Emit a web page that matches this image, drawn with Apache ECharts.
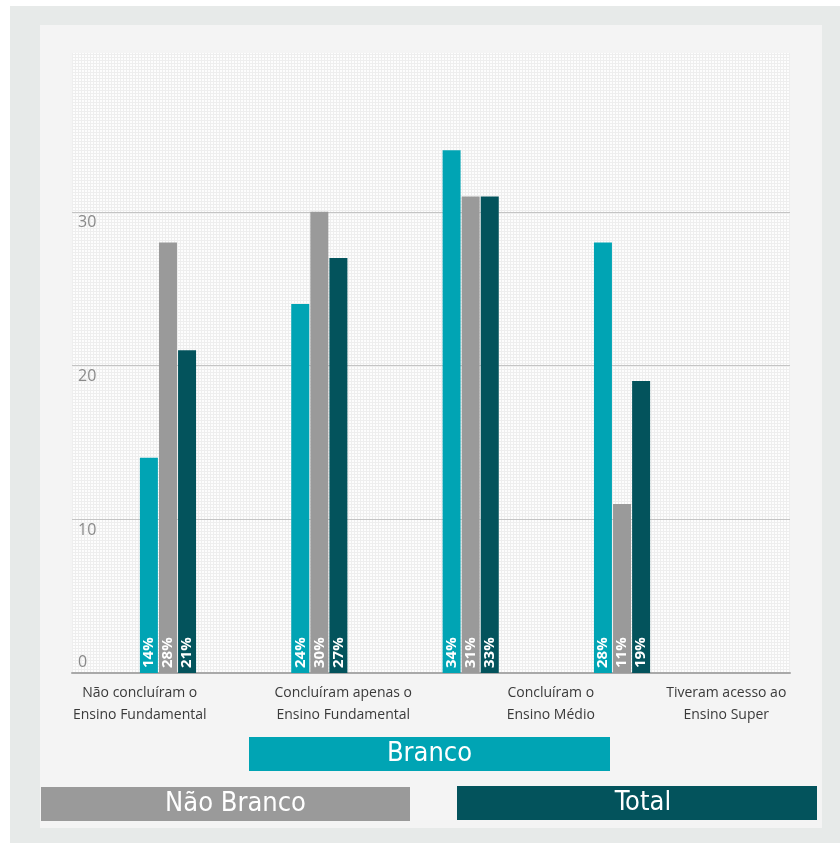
<!DOCTYPE html>
<html>
<head>
<meta charset="utf-8">
<script src="https://cdn.jsdelivr.net/npm/echarts@6/dist/echarts.min.js"></script>
<style>html,body{margin:0;padding:0;background:#fff}#c{width:840px;height:843px}</style>
</head>
<body>
<div id="c"></div>
<script>
// ---- data ----
const categories = ['Não concluíram o\nEnsino Fundamental', 'Concluíram apenas o\nEnsino Fundamental', 'Concluíram o\nEnsino Médio', 'Tiveram acesso ao\nEnsino Super'];
const seriesNames = ['Branco', 'Não Branco', 'Total'];
const branco = [14, 24, 34, 28];
const naoBranco = [28, 30, 31, 11];
const total = [21, 27, 31, 19];          // drawn bar heights
const brancoLabels = ['14%', '24%', '34%', '28%'];
const naoBrancoLabels = ['28%', '30%', '31%', '11%'];
const totalLabels = ['21%', '27%', '33%', '19%'];
const yMin = 0, yMax = 40, yStep = 10;

// ---- styles ----
const colors = ['#00a4b4', '#9a9a9a', '#03535c'];
const labelShift = [-22, 2, 30, 26];

function dotPattern() {
  const cv = document.createElement('canvas');
  cv.width = 3; cv.height = 3;
  const ctx = cv.getContext('2d');
  ctx.fillStyle = '#fdfdfd'; ctx.fillRect(0, 0, 3, 3);
  ctx.fillStyle = '#eeeeee'; ctx.fillRect(0, 0, 3, 1); ctx.fillRect(0, 0, 1, 3);
  return cv;
}

const chart = echarts.init(document.getElementById('c'), null, {renderer: 'canvas'});

function barSeries(name, values, labels, idx) {
  return {
    name: name, type: 'bar', xAxisIndex: 1, yAxisIndex: 1,
    data: values, barWidth: 18, barGap: '6%',
    itemStyle: {color: colors[idx]},
    label: {
      show: true, position: 'insideBottom', rotate: 90, align: 'left', verticalAlign: 'middle',
      distance: 5, color: '#fff', fontWeight: 'bold', fontSize: 15, fontFamily: 'Open Sans',
      formatter: p => labels[p.dataIndex]
    }
  };
}

function legendBox(name, idx, left, top, width, shift) {
  return {
    data: [name], left: left, top: top, padding: 0, itemWidth: 0, itemHeight: 0, itemGap: 0,
    icon: 'rect', selectedMode: false,
    formatter: '{a|{name}}',
    textStyle: {
      rich: {a: {width: width - 2 * shift, height: 34, lineHeight: 36, align: 'center', backgroundColor: colors[idx],
        padding: [0, 0, 0, 2 * shift],
        color: '#fff', fontSize: 27, fontFamily: 'DejaVu Sans Condensed, Liberation Sans Narrow, Roboto, sans-serif'}}
    }
  };
}

const option = {
  backgroundColor: '#ffffff',
  animation: false,
  graphic: [
    {type: 'rect', z: -10, shape: {x: 10, y: 6, width: 830, height: 837}, style: {fill: '#e7eae9'}},
    {type: 'rect', z: -9, shape: {x: 40, y: 25, width: 782, height: 803}, style: {fill: '#f4f4f4'}},
    {type: 'rect', z: -8, shape: {x: 72, y: 53, width: 718, height: 620}, style: {fill: {image: dotPattern(), repeat: 'repeat'}}}
  ],
  legend: [
    legendBox(seriesNames[0], 0, 244, 737, 361, 0),
    legendBox(seriesNames[1], 1, 36, 787, 369, 10),
    legendBox(seriesNames[2], 2, 452, 786, 360, 6)
  ],
  grid: [
    {left: 72, right: 50, top: 58, bottom: 170},
    {left: 92.3, right: 142.3, top: 58, bottom: 170}
  ],
  xAxis: [
    {
      type: 'category', gridIndex: 0,
      data: categories.map((c, i) => ({value: c, textStyle: {padding: labelShift[i] > 0 ? [0, 0, 0, 2 * labelShift[i]] : [0, -2 * labelShift[i], 0, 0]}})),
      axisLine: {lineStyle: {color: '#a9a9a9', width: 2}},
      axisTick: {show: false},
      axisLabel: {interval: 0, color: '#3a3a3a', fontSize: 14, fontFamily: 'Open Sans', lineHeight: 22, margin: 9}
    },
    {type: 'category', gridIndex: 1, data: categories, show: false}
  ],
  yAxis: [
    {
      type: 'value', gridIndex: 0, min: yMin, max: yMax, interval: yStep,
      axisLine: {show: false}, axisTick: {show: false},
      splitLine: {lineStyle: {color: ['transparent', '#c4c4c4', '#c4c4c4', '#c4c4c4', 'transparent'], width: 1}},
      axisLabel: {
        inside: true, margin: 6, color: '#8a8a8a', fontSize: 16, fontFamily: 'Open Sans',
        lineHeight: 22, verticalAlign: 'middle',
        formatter: v => v === yMax ? '' : (v === 0 ? '0\n ' : ' \n' + v)
      }
    },
    {type: 'value', gridIndex: 1, min: yMin, max: yMax, show: false}
  ],
  series: [
    barSeries(seriesNames[0], branco, brancoLabels, 0),
    barSeries(seriesNames[1], naoBranco, naoBrancoLabels, 1),
    barSeries(seriesNames[2], total, totalLabels, 2)
  ]
};
chart.setOption(option);
</script>
</body>
</html>
